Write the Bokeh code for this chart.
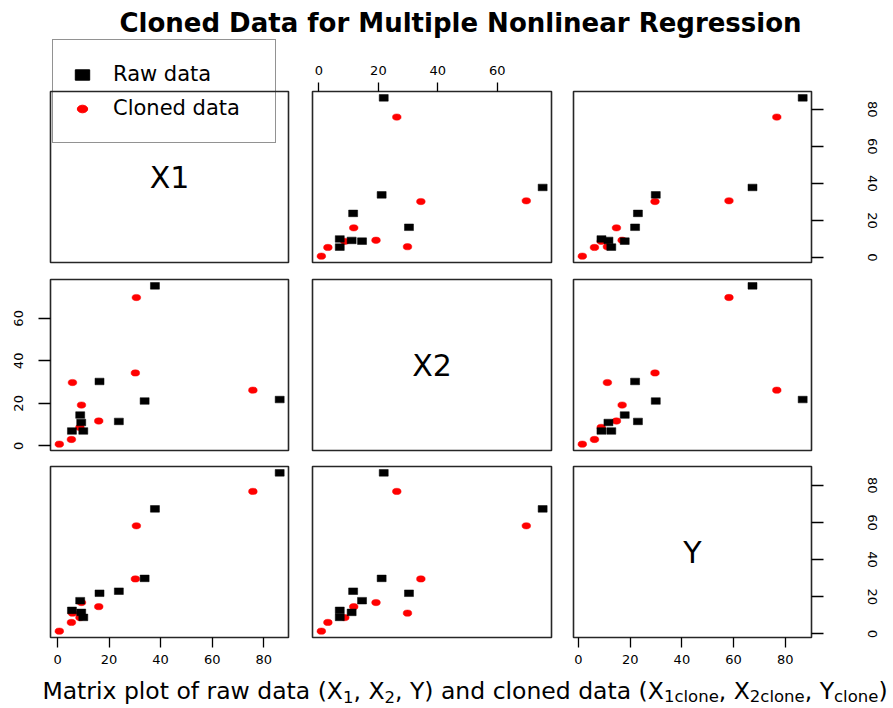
import numpy as np
from bokeh.plotting import figure
from bokeh.models import (Range1d, LinearAxis, FixedTicker, Label, Legend,
                          LegendItem, ColumnDataSource)
from bokeh.layouts import column, row
from bokeh.embed import file_html
from bokeh.resources import INLINE

# ---------------- data ----------------
var_names = ["X1", "X2", "Y"]

raw_x1 = [86.2, 37.8, 33.8, 23.8, 16.3, 8.8, 5.6, 9.2, 10.0]
raw_x2 = [21.8, 75.3, 21.1, 11.5, 30.3, 14.5, 7.0, 11.0, 7.0]
raw_y = [86.7, 67.3, 29.9, 23.0, 21.9, 17.9, 12.7, 11.6, 8.9]

clone_x1 = [75.8, 30.6, 30.2, 5.8, 9.3, 16.0, 8.7, 5.4, 0.7]
clone_x2 = [26.2, 69.8, 34.3, 29.8, 19.2, 11.7, 8.7, 3.0, 0.8]
clone_y = [76.7, 58.2, 29.6, 11.2, 16.9, 14.7, 8.8, 6.2, 1.5]

ticks_x1 = [0, 20, 40, 60, 80]
ticks_x2 = [0, 20, 40, 60]
ticks_y = [0, 20, 40, 60, 80]

legend_labels = ["Raw data", "Cloned data"]
title_text = "Cloned Data for Multiple Nonlinear Regression"
xlabel_parts = [("Matrix plot of raw data (X", False), ("1", True), (", X", False),
                ("2", True), (", Y) and cloned data (X", False), ("1clone", True),
                (", X", False), ("2clone", True), (", Y", False), ("clone", True),
                (")", False)]

# ---------------- styling / layout constants ----------------
FONT = "DejaVu Sans"
RAW_COLOR = "black"
CLONE_COLOR = "#ff0000"
BOX_COLOR = "#262626"
BOX_W = 1.6

col_left = [50, 12, 11]
col_frame = [238, 239, 238]
col_right = [12, 11, 81]
row_top = [51, 9, 8]
row_frame = [171, 171, 171]
row_bottom = [8, 8, 34]
TOTAL_W = sum(col_left) + sum(col_frame) + sum(col_right)
TITLE_H = 40          # height of the title strip in the flow
OVERLAY_H = 145       # the strip's canvas also covers the legend region
XLAB_H = 36

raw = {"X1": raw_x1, "X2": raw_x2, "Y": raw_y}
clone = {"X1": clone_x1, "X2": clone_x2, "Y": clone_y}
ticks = {"X1": ticks_x1, "X2": ticks_x2, "Y": ticks_y}


def padded(name):
    vals = list(raw[name]) + list(clone[name])
    lo, hi = min(vals), max(vals)
    ext = 0.04 * (hi - lo)
    return lo - ext, hi + ext


def make_axis(name, tick_out, standoff, vertical=False):
    ax = LinearAxis(ticker=FixedTicker(ticks=ticks[name]))
    ax.axis_line_color = None
    ax.major_tick_in = 0
    ax.major_tick_out = tick_out
    ax.major_tick_line_color = "black"
    ax.major_tick_line_width = 1.3
    ax.minor_tick_in = 0
    ax.minor_tick_out = 0
    ax.major_label_text_font = FONT
    ax.major_label_text_font_size = "13px"
    ax.major_label_text_color = "black"
    ax.major_label_standoff = standoff
    if vertical:
        ax.major_label_orientation = "vertical"
    return ax


def base_fig(**kw):
    p = figure(x_axis_type=None, y_axis_type=None, toolbar_location=None,
               title_location=None, output_backend="svg", **kw)
    # transparent canvases: the page is white, and the top strip (title and
    # legend) lies partly under the first row of panels
    p.background_fill_alpha = 0
    p.border_fill_alpha = 0
    return p


rows = []
for i, rname in enumerate(var_names):
    figs_row = []
    for j, cname in enumerate(var_names):
        xlo, xhi = padded(cname)
        ylo, yhi = padded(rname)
        p = base_fig(frame_width=col_frame[j], frame_height=row_frame[i],
                     min_border_left=col_left[j], min_border_right=col_right[j],
                     min_border_top=row_top[i], min_border_bottom=row_bottom[i],
                     x_range=Range1d(xlo, xhi), y_range=Range1d(ylo, yhi))
        p.outline_line_color = BOX_COLOR
        p.outline_line_width = BOX_W

        if i == j:
            p.add_layout(Label(x=(xlo + xhi) / 2, y=(ylo + yhi) / 2,
                               text=rname, text_font=FONT, text_font_size="30px",
                               text_color="black", text_align="center",
                               text_baseline="middle"))
        else:
            src_c = ColumnDataSource(data=dict(x=clone[cname], y=clone[rname]))
            src_r = ColumnDataSource(data=dict(x=raw[cname], y=raw[rname]))
            p.ellipse("x", "y", source=src_c, width=8.6, height=6.3,
                      width_units="screen", height_units="screen",
                      fill_color=CLONE_COLOR, line_color=CLONE_COLOR, line_width=0.5)
            p.rect("x", "y", source=src_r, width=9, height=6.6,
                   width_units="screen", height_units="screen",
                   fill_color=RAW_COLOR, line_color=RAW_COLOR, line_width=0.5)

        # R pairs() style alternating axes
        if i == 0 and j % 2 == 1:
            p.add_layout(make_axis(cname, 9, 8), "above")
        if i == len(var_names) - 1 and j % 2 == 0:
            p.add_layout(make_axis(cname, 10, 7), "below")
        if j == 0 and i % 2 == 1:
            p.add_layout(make_axis(rname, 12, 15, vertical=True), "left")
        if j == len(var_names) - 1 and i % 2 == 0:
            p.add_layout(make_axis(rname, 12, 44, vertical=True), "right")
        figs_row.append(p)
    rows.append(row(*figs_row, spacing=0))

# ---- top strip: title + legend (its lower part overlaps the first panel row)
tf = base_fig(width=TOTAL_W, height=OVERLAY_H, x_range=(0, 1), y_range=(0, 1),
              min_border=0)
tf.outline_line_color = None
tf.margin = (0, 0, TITLE_H - OVERLAY_H, 0)
tf.add_layout(Label(x=460, y=OVERLAY_H - TITLE_H + 18, x_units="screen",
                    y_units="screen", text=title_text,
                    text_font=FONT, text_font_size="26px", text_font_style="bold",
                    text_color="black", text_align="center", text_baseline="alphabetic"))

# NaN proxy renderers: they only give the legend its glyphs
proxy = ColumnDataSource(data=dict(x=[np.nan], y=[np.nan]))
r_raw = tf.rect("x", "y", source=proxy, width=9, height=6.6,
                width_units="screen", height_units="screen",
                fill_color=RAW_COLOR, line_color=RAW_COLOR)
r_cln = tf.ellipse("x", "y", source=proxy, width=8.6, height=6.3,
                   width_units="screen", height_units="screen",
                   fill_color=CLONE_COLOR, line_color=CLONE_COLOR)
legend = Legend(items=[LegendItem(label=legend_labels[0], renderers=[r_raw]),
                       LegendItem(label=legend_labels[1], renderers=[r_cln])],
                location=(52, 2), orientation="vertical",
                glyph_width=18, glyph_height=13, label_height=28, label_width=142,
                spacing=6, padding=20, margin=0, label_standoff=22,
                border_line_color=BOX_COLOR, border_line_width=1.3,
                background_fill_alpha=0, inactive_fill_alpha=0,
                label_text_font=FONT, label_text_font_size="21px",
                label_text_color="black")
tf.add_layout(legend)

# ---- x-label strip with subscripts
DEJAVU_W = {" ": 318, "(": 390, ")": 390, ",": 318, "1": 636, "2": 636, "M": 863,
            "X": 685, "Y": 612, "a": 613, "c": 550, "d": 635, "e": 615, "f": 352,
            "i": 278, "l": 278, "n": 634, "o": 612, "p": 635, "r": 411, "t": 392,
            "w": 818, "x": 592}
F_MAIN, F_SUB = 23.5, 16.5


def text_w(s, size):
    return sum(DEJAVU_W.get(c, 600) for c in s) / 1000.0 * size


xf = base_fig(width=TOTAL_W, height=XLAB_H, x_range=(0, 1), y_range=(0, 1),
              min_border=0)
xf.outline_line_color = None
total = sum(text_w(s, F_SUB if sub else F_MAIN) for s, sub in xlabel_parts)
cx = 464.5 - total / 2
for s, sub in xlabel_parts:
    size = F_SUB if sub else F_MAIN
    xf.add_layout(Label(x=cx, y=(11 if sub else 16.5), x_units="screen", y_units="screen",
                        text=s, text_font=FONT, text_font_size=f"{size}px",
                        text_color="black", text_align="left",
                        text_baseline="alphabetic"))
    cx += text_w(s, size)

layout = column(tf, *rows, xf, spacing=0)
open("out.html", "w").write(file_html(layout, INLINE))
